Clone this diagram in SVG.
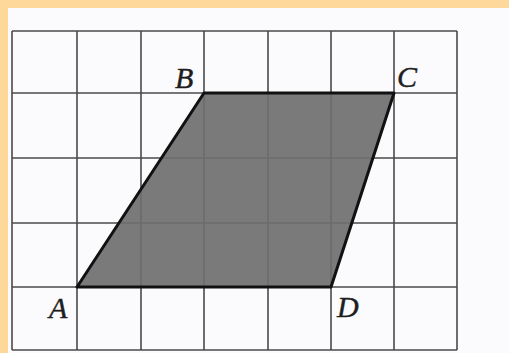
<svg xmlns="http://www.w3.org/2000/svg" width="509" height="353" viewBox="0 0 509 353">
<style>
.grid{stroke:#4a4a4a;stroke-width:1.6;fill:none}
.lbl{font-family:"Liberation Serif","Times New Roman",serif;font-style:italic;font-size:30px;fill:#1e1e1e;stroke:#1e1e1e;stroke-width:0.4}
</style>
<rect x="0" y="0" width="509" height="353" fill="#FDD89A"/>
<rect x="8" y="8" width="501" height="345" fill="#FBFBFD"/>
<g id="grid" class="grid">
<line x1="12" y1="31" x2="12" y2="350"/>
<line x1="77" y1="31" x2="77" y2="350"/>
<line x1="141" y1="31" x2="141" y2="350"/>
<line x1="204" y1="31" x2="204" y2="350"/>
<line x1="268" y1="31" x2="268" y2="350"/>
<line x1="331" y1="31" x2="331" y2="350"/>
<line x1="394" y1="31" x2="394" y2="350"/>
<line x1="457" y1="31" x2="457" y2="350"/>
<line x1="12" y1="31" x2="457" y2="31"/>
<line x1="12" y1="93" x2="457" y2="93"/>
<line x1="12" y1="158" x2="457" y2="158"/>
<line x1="12" y1="223" x2="457" y2="223"/>
<line x1="12" y1="287" x2="457" y2="287"/>
<line x1="12" y1="350" x2="457" y2="350"/>
</g>
<g id="parallelogram">
<polygon points="77,287 204,93 394,93 331,287" fill="#6f6f6f" fill-opacity="0.92" stroke="#111" stroke-width="3" stroke-linejoin="round"/>
</g>
<g id="labels">
<text class="lbl" x="175" y="88">B</text>
<text class="lbl" x="397" y="87">C</text>
<text class="lbl" x="49" y="318">A</text>
<text class="lbl" x="337" y="317">D</text>
</g>
</svg>
